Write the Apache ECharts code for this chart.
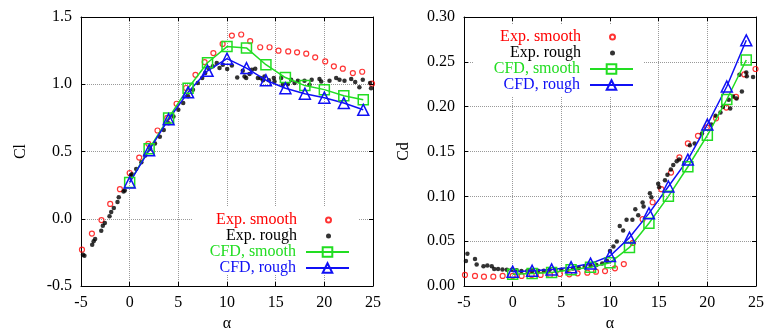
<!DOCTYPE html>
<html>
<head>
<meta charset="utf-8">
<script src="https://cdn.jsdelivr.net/npm/echarts@6/dist/echarts.min.js"></script>
<style>
  html, body { margin: 0; padding: 0; background: #fff; }
  #chart { width: 766px; height: 334px; }
</style>
</head>
<body>
<div id="chart"></div>
<script>
// CFD runs, every 2 degrees
const cfdAlpha = [0, 2, 4, 6, 8, 10, 12, 14, 16, 18, 20, 22, 24];
const clCfdSmooth = [0.27, 0.52, 0.75, 0.97, 1.16, 1.28, 1.27, 1.145, 1.05, 0.99, 0.96, 0.915, 0.885];
const clCfdRough = [0.27, 0.51, 0.74, 0.94, 1.10, 1.19, 1.12, 1.03, 0.97, 0.93, 0.90, 0.86, 0.81];
const cdCfdSmooth = [0.013, 0.014, 0.015, 0.018, 0.021, 0.026, 0.043, 0.070, 0.100, 0.133, 0.168, 0.208, 0.252];
const cdCfdRough = [0.016, 0.017, 0.0185, 0.021, 0.025, 0.0335, 0.054, 0.081, 0.111, 0.141, 0.180, 0.2225, 0.274];

// experiment, smooth
const clSmoothAlpha = [-4.9, -3.88, -2.9, -2.0, -1.0, 0.0, 0.98, 1.92, 2.86, 3.86, 4.82, 5.8, 6.76, 7.7, 8.6, 9.55,
  10.5, 11.46, 12.38, 13.41, 14.37, 15.29, 16.29, 17.2, 18.14, 19.06, 20.09, 20.98, 21.9, 22.93, 23.89, 24.9];
const clSmooth = [-0.23, -0.11, -0.01, 0.11, 0.22, 0.34, 0.455, 0.557, 0.656, 0.75, 0.855, 0.972, 1.07, 1.165, 1.232, 1.30,
  1.362, 1.37, 1.32, 1.275, 1.275, 1.25, 1.244, 1.237, 1.227, 1.20, 1.17, 1.133, 1.116, 1.083, 1.093, 1.004];

// experiment, rough
const clRoughAlpha = [-4.8, -4.65, -3.85, -3.7, -3.55, -2.92, -2.76, -2.55, -2.07, -1.9, -1.63, -1.25, -1.12, -0.63, -0.5,
  0.12, 0.22, 0.67, 1.2, 1.6, 2.1, 2.6, 3.1, 3.5, 4.0, 4.5, 5.0, 5.5, 6.0, 6.5, 7.0, 7.45, 7.76, 8.1, 8.54, 8.95,
  9.23, 9.57, 10.02, 10.5, 11.05, 11.62, 11.8, 11.97, 12.31, 12.55, 12.9, 13.17, 13.44, 13.7, 13.85, 14.3, 14.81, 14.88,
  15.57, 15.73, 16.24, 16.59, 16.94, 17.28, 17.96, 18.48, 18.7, 19.5, 19.68, 20.53, 21.22, 21.56, 22.07, 22.76,
  23.17, 23.6, 23.95, 24.7, 24.8];
const clRough = [-0.267, -0.275, -0.193, -0.168, -0.15, -0.089, -0.052, -0.032, 0.018, 0.05, 0.08, 0.125, 0.159, 0.203, 0.21,
  0.322, 0.33, 0.37, 0.42, 0.47, 0.52, 0.56, 0.61, 0.66, 0.71, 0.76, 0.81, 0.86, 0.91, 0.96, 1.01, 1.046, 1.083, 1.12, 1.133, 1.158,
  1.12, 1.145, 1.113, 1.14, 1.051, 1.10, 1.058, 1.046, 1.076, 1.108, 1.116, 1.046, 1.046, 1.03, 1.058, 1.03, 1.046, 1.021,
  1.046, 0.997, 1.0, 1.034, 1.009, 1.026, 1.026, 0.997, 1.034, 1.039, 1.021, 1.026, 1.046, 1.034, 1.026, 1.039,
  1.017, 0.977, 1.034, 1.01, 0.97];

const cdSmoothAlpha = [-4.9, -3.87, -2.95, -1.99, -1.03, 0.0, 0.92, 1.95, 2.87, 3.84, 4.86, 5.82, 6.67, 7.67, 8.56, 9.49,
  10.51, 11.42, 12.35, 13.35, 14.38, 15.27, 16.27, 17.13, 18.0, 19.04, 19.95, 20.9, 21.95, 22.95, 23.8, 24.95];
const cdSmooth = [0.0123, 0.0112, 0.0104, 0.0104, 0.0112, 0.0112, 0.0112, 0.0123, 0.0123, 0.0123, 0.0134, 0.013, 0.0141, 0.0149, 0.016, 0.0167,
  0.0197, 0.0245, 0.048, 0.0745, 0.0934, 0.108, 0.1265, 0.1435, 0.159, 0.1675, 0.177, 0.187, 0.199, 0.211, 0.236, 0.242];

const cdRoughAlpha = [-4.8, -4.65, -3.87, -3.7, -3.0, -2.6, -2.15, -1.9, -1.5, -1.05, -0.6, -0.1, 0.4, 0.9, 1.5, 2.0, 2.6,
  3.2, 3.8, 4.4, 5.0, 5.6, 6.2, 6.8, 7.4, 8.0, 8.6, 9.2, 9.7, 10.0, 10.35, 10.7, 11.0, 11.35, 11.7, 12.3, 12.6, 12.9,
  13.35, 13.45, 14.1, 14.25, 14.95, 15.05, 15.65, 15.9, 16.25, 16.5, 16.85, 17.1, 18.2, 18.7, 19.45, 20.4, 20.85,
  21.35, 21.6, 22.2, 22.35, 22.65, 23.0, 23.3, 23.55, 24.0, 24.05, 24.7];
const cdRough = [0.028, 0.036, 0.030, 0.024, 0.022, 0.023, 0.022, 0.019, 0.019, 0.0185, 0.018, 0.018, 0.0175, 0.0167, 0.0167, 0.0167, 0.017,
  0.017, 0.018, 0.018, 0.018, 0.018, 0.0195, 0.020, 0.0215, 0.023, 0.0235, 0.025, 0.028, 0.039, 0.044, 0.0495, 0.067, 0.062, 0.074, 0.074, 0.0856, 0.079,
  0.093, 0.0886, 0.1035, 0.099, 0.114, 0.110, 0.118, 0.124, 0.130, 0.135, 0.139, 0.141, 0.157, 0.159, 0.170, 0.180, 0.190,
  0.1935, 0.1995, 0.2077, 0.198, 0.2114, 0.209, 0.2356, 0.217, 0.238, 0.234, 0.233];

const xTicks = [-5, 0, 5, 10, 15, 20, 25];
const clTicks = [-0.5, 0.0, 0.5, 1.0, 1.5];
const cdTicks = [0.00, 0.05, 0.10, 0.15, 0.20, 0.25, 0.30];

const FONT = 'Liberation Serif';
const RED = '#ff0000';
const GREEN = '#22dd22';
const BLUE = '#1010f5';

const zip = (xs, ys) => xs.map((x, i) => [x, ys[i]]);

function xAxis(grid, pos, main) {
  return {
    type: 'value', gridIndex: grid, position: pos,
    min: xTicks[0], max: xTicks[xTicks.length - 1], interval: xTicks[1] - xTicks[0],
    axisLine: { show: true, onZero: false, lineStyle: { color: '#000', width: 1 } },
    axisTick: { show: true, inside: true, length: 4, lineStyle: { color: '#000' } },
    splitLine: { show: main, lineStyle: { color: '#999', type: 'dotted' } },
    axisLabel: { show: main, color: '#000', fontFamily: FONT, fontSize: 16, margin: 9 },
    name: main ? 'α' : '', nameLocation: 'middle', nameGap: 29,
    nameTextStyle: { color: '#000', fontFamily: FONT, fontSize: 16 }
  };
}

function yAxis(grid, pos, main, ticks, digits, name) {
  return {
    type: 'value', gridIndex: grid, position: pos,
    min: ticks[0], max: ticks[ticks.length - 1], interval: ticks[1] - ticks[0],
    axisLine: { show: true, onZero: false, lineStyle: { color: '#000', width: 1 } },
    axisTick: { show: true, inside: true, length: 4, lineStyle: { color: '#000' } },
    splitLine: { show: main, lineStyle: { color: '#999', type: 'dotted' } },
    axisLabel: {
      show: main, color: '#000', fontFamily: FONT, fontSize: 16, margin: 9,
      formatter: v => v.toFixed(digits)
    },
    name: main ? name : '', nameLocation: 'middle', nameGap: 52,
    nameTextStyle: { color: '#000', fontFamily: FONT, fontSize: 16 }
  };
}

// the scatter key's box only spans the little dot, so it sits further in than the line key
function legends(right, top) {
  const base = {
    orient: 'vertical', align: 'right', itemGap: 0, padding: 0, itemWidth: 43,
    textStyle: { fontFamily: FONT, fontSize: 16, lineHeight: 16, padding: [0, 5, 0, 0] }
  };
  return [
    Object.assign({}, base, {
      right: right + 18, top: top, itemHeight: 5,
      data: [{ name: 'Exp. smooth', textStyle: { color: RED } }, { name: 'Exp. rough', textStyle: { color: '#000' } }]
    }),
    Object.assign({}, base, {
      right: right, top: top + 32, itemHeight: 12,
      data: [{ name: 'CFD, smooth', textStyle: { color: GREEN } }, { name: 'CFD, rough', textStyle: { color: BLUE } }]
    })
  ];
}

function panelSeries(ax, expSmooth, expRough, cfdSmooth, cfdRough) {
  return [
    {
      name: 'Exp. smooth', type: 'scatter', xAxisIndex: ax, yAxisIndex: ax, data: expSmooth,
      symbol: 'circle', symbolSize: 5,
      itemStyle: { color: 'rgba(255,255,255,0)', borderColor: RED, borderWidth: 1.2 }
    },
    {
      name: 'Exp. rough', type: 'scatter', xAxisIndex: ax, yAxisIndex: ax, data: expRough,
      symbol: 'circle', symbolSize: 4.5, itemStyle: { color: '#000' }
    },
    {
      name: 'CFD, smooth', type: 'line', xAxisIndex: ax, yAxisIndex: ax, data: cfdSmooth,
      symbol: 'rect', symbolSize: 10,
      lineStyle: { color: GREEN, width: 1.5 },
      itemStyle: { color: 'rgba(255,255,255,0)', borderColor: GREEN, borderWidth: 1.5 }
    },
    {
      name: 'CFD, rough', type: 'line', xAxisIndex: ax, yAxisIndex: ax, data: cfdRough,
      symbol: 'triangle', symbolSize: 11,
      lineStyle: { color: BLUE, width: 1.5 },
      itemStyle: { color: 'rgba(255,255,255,0)', borderColor: BLUE, borderWidth: 1.5 }
    }
  ];
}

const chart = echarts.init(document.getElementById('chart'));
chart.setOption({
  animation: false,
  backgroundColor: '#fff',
  grid: [
    { left: 81, top: 17, width: 292, height: 269, outerBoundsMode: 'none' },
    { left: 464, top: 17, width: 292, height: 269, outerBoundsMode: 'none' }
  ],
  xAxis: [xAxis(0, 'bottom', true), xAxis(0, 'top', false), xAxis(1, 'bottom', true), xAxis(1, 'top', false)],
  yAxis: [
    yAxis(0, 'left', true, clTicks, 1, 'Cl'), yAxis(0, 'right', false, clTicks, 1, ''),
    yAxis(1, 'left', true, cdTicks, 2, 'Cd'), yAxis(1, 'right', false, cdTicks, 2, '')
  ],
  legend: legends(416, 212).concat(legends(132, 29)),
  graphic: [
    { type: 'rect', z: 1, shape: { x: 192, y: 207, width: 166, height: 68 }, style: { fill: '#fff' } },
    { type: 'rect', z: 1, shape: { x: 473, y: 24, width: 170, height: 72 }, style: { fill: '#fff' } }
  ],
  series: panelSeries(0,
      zip(clSmoothAlpha, clSmooth), zip(clRoughAlpha, clRough),
      zip(cfdAlpha, clCfdSmooth), zip(cfdAlpha, clCfdRough))
    .concat(panelSeries(2,
      zip(cdSmoothAlpha, cdSmooth), zip(cdRoughAlpha, cdRough),
      zip(cfdAlpha, cdCfdSmooth), zip(cfdAlpha, cdCfdRough)))
});
</script>
</body>
</html>
